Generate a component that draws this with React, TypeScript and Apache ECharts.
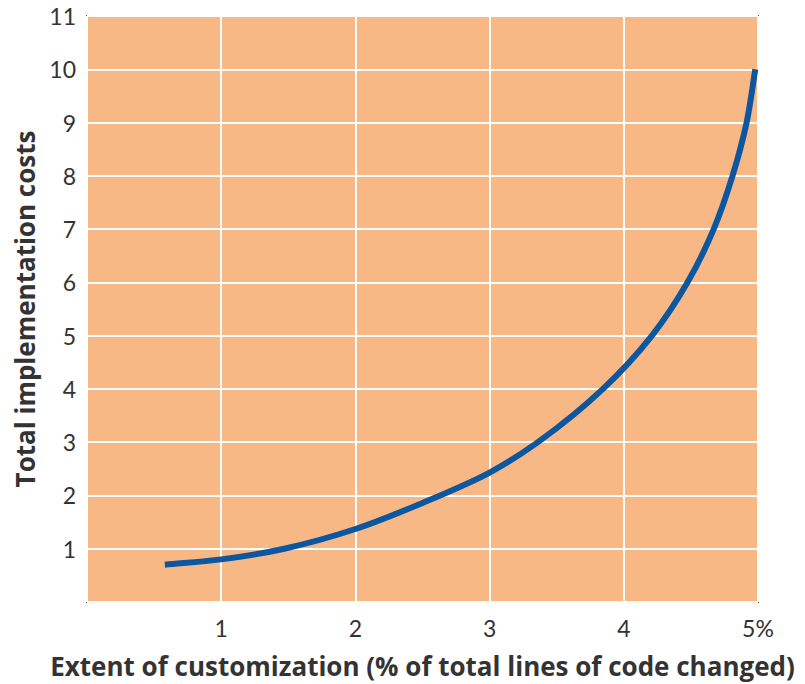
import React, { useEffect, useRef } from "react";
import * as echarts from "echarts";

const xTickLabels: Record<number, string> = { 1: "1", 2: "2", 3: "3", 4: "4", 5: "5%" };
const curvePoints: [number, number][] = [
  [0.58, 0.7],
  [1.0, 0.8],
  [1.47, 1.0],
  [2.0, 1.37],
  [2.5, 1.86],
  [3.0, 2.43],
  [3.36, 3.0],
  [3.845, 4.0],
  [4.21, 5.0],
  [4.475, 6.0],
  [4.67, 7.0],
  [4.81, 8.0],
  [4.915, 9.0],
  [4.98, 10.0],
];
const xTitle = "Extent of customization (% of total lines of code changed)";
const yTitle = "Total implementation costs";

function splinePath(pts: number[][]): string {
  const n = pts.length;
  if (n < 2) return "";
  const get = (i: number): number[] => {
    if (i < 0) return [2 * pts[0][0] - pts[1][0], 2 * pts[0][1] - pts[1][1]];
    if (i >= n) return [2 * pts[n - 1][0] - pts[n - 2][0], 2 * pts[n - 1][1] - pts[n - 2][1]];
    return pts[i];
  };
  const dist = (a: number[], b: number[]) => Math.pow(Math.hypot(b[0] - a[0], b[1] - a[1]), 0.5) || 1e-6;
  let d = `M${pts[0][0]},${pts[0][1]}`;
  for (let i = 0; i < n - 1; i++) {
    const p0 = get(i - 1), p1 = get(i), p2 = get(i + 1), p3 = get(i + 2);
    const d1 = dist(p0, p1), d2 = dist(p1, p2), d3 = dist(p2, p3);
    const c1 = [0, 1].map(
      (k) => (d1 * d1 * p2[k] - d2 * d2 * p0[k] + (2 * d1 * d1 + 3 * d1 * d2 + d2 * d2) * p1[k]) / (3 * d1 * (d1 + d2))
    );
    const c2 = [0, 1].map(
      (k) => (d3 * d3 * p1[k] - d2 * d2 * p3[k] + (2 * d3 * d3 + 3 * d3 * d2 + d2 * d2) * p2[k]) / (3 * d3 * (d3 + d2))
    );
    d += ` C${c1[0]},${c1[1]} ${c2[0]},${c2[1]} ${p2[0]},${p2[1]}`;
  }
  return d;
}

export default function App() {
  const ref = useRef<HTMLDivElement>(null);
  useEffect(() => {
    if (!ref.current) return;
    const chart = echarts.init(ref.current, undefined, { renderer: "svg" });
    chart.setOption({
      animation: false,
      textStyle: { fontFamily: "Lato" },
      grid: {
        left: 87,
        top: 16,
        right: 47,
        bottom: 76,
        show: true,
        backgroundColor: "#F8B886",
        borderColor: "#5b4d44",
        borderWidth: 2,
      },
      xAxis: {
        type: "value",
        min: 0,
        max: 5,
        interval: 1,
        name: xTitle,
        nameLocation: "middle",
        nameGap: 51,
        nameTextStyle: { fontSize: 26, fontWeight: "bold", color: "#333", fontFamily: "Open Sans" },
        axisLine: { show: false },
        axisTick: { show: false },
        axisLabel: {
          fontSize: 23,
          color: "#333",
          margin: 14,
          formatter: (v: number) => xTickLabels[v] ?? "",
        },
        splitLine: { show: true, lineStyle: { color: "#ffffff", width: 2 } },
      },
      yAxis: {
        type: "value",
        min: 0,
        max: 11,
        interval: 1,
        name: yTitle,
        nameLocation: "middle",
        nameGap: 39,
        nameTextStyle: { fontSize: 26, fontWeight: "bold", color: "#333", fontFamily: "Open Sans" },
        axisLine: { show: false },
        axisTick: { show: false },
        axisLabel: {
          fontSize: 23,
          color: "#333",
          margin: 11,
          formatter: (v: number) => (v === 0 ? "" : String(v)),
        },
        splitLine: { show: true, lineStyle: { color: "#ffffff", width: 2 } },
      },
      series: [
        {
          type: "custom",
          data: curvePoints,
          encode: { x: 0, y: 1 },
          renderItem: (params: any, api: any) => {
            if (params.dataIndex !== 0) return null;
            const px = curvePoints.map((p) => api.coord(p));
            return {
              type: "path",
              shape: { pathData: splinePath(px) },
              style: { fill: "none", stroke: "#0b57a0", lineWidth: 6, lineCap: "butt" },
            };
          },
        },
      ],
    });
    return () => chart.dispose();
  }, []);
  return (
    <div
      ref={ref}
      style={{ position: "absolute", left: 0, top: 0, width: 805, height: 684, background: "#fff" }}
    />
  );
}
